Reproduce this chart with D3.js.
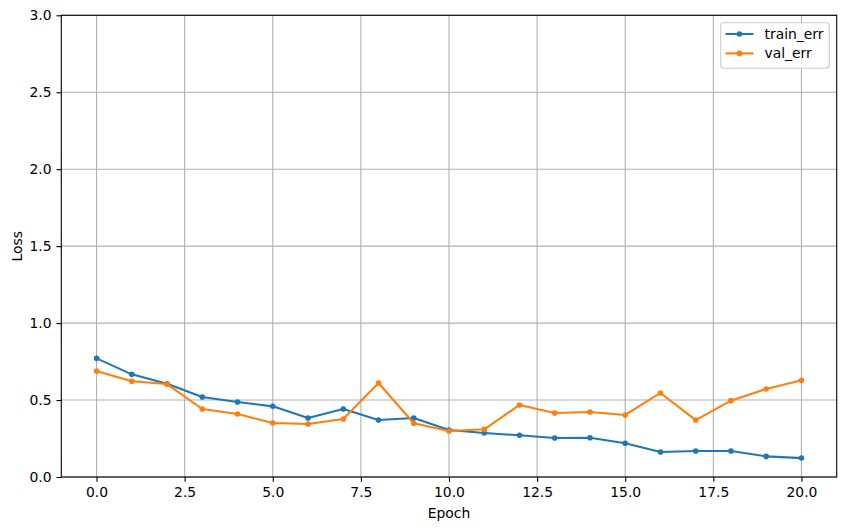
<!DOCTYPE html>
<html><head><meta charset="utf-8">
<script src="https://cdn.jsdelivr.net/npm/d3@7"></script>
<style>body{margin:0;background:#fff}svg{display:block}text{font-family:"DejaVu Sans",sans-serif}</style>
</head><body><div id="chart"></div>
<script>
const epochs = [0,1,2,3,4,5,6,7,8,9,10,11,12,13,14,15,16,17,18,19,20];
const trainErr = [0.771,0.667,0.606,0.520,0.487,0.459,0.383,0.442,0.370,0.383,0.305,0.286,0.271,0.253,0.255,0.219,0.162,0.169,0.169,0.134,0.123];
const valErr = [0.689,0.622,0.604,0.442,0.409,0.351,0.344,0.377,0.611,0.349,0.299,0.310,0.468,0.416,0.422,0.403,0.546,0.370,0.496,0.572,0.628];
const xTicks = [0,2.5,5,7.5,10,12.5,15,17.5,20];
const yTicks = [0,0.5,1,1.5,2,2.5,3];
const seriesNames = ["train_err","val_err"];
const colors = ["#1f77b4","#ff7f0e"];

const W=846,H=530;
const L=61.3,R=836.7,T=15.3,B=477;
const svg=d3.select("#chart").append("svg").attr("width",W).attr("height",H);
const x=d3.scaleLinear().domain([-1,21]).range([L,R]);
const y=d3.scaleLinear().domain([0,3]).range([B,T]);
const fs="13.9px";

// grid
const g=svg.append("g");
g.selectAll(".gx").data(xTicks).enter().append("line")
 .attr("x1",d=>x(d)).attr("x2",d=>x(d)).attr("y1",T).attr("y2",B)
 .attr("stroke","#b0b0b0").attr("stroke-width",1.1);
g.selectAll(".gy").data(yTicks).enter().append("line")
 .attr("y1",d=>y(d)).attr("y2",d=>y(d)).attr("x1",L).attr("x2",R)
 .attr("stroke","#b0b0b0").attr("stroke-width",1.1);

// axes
const xAxis=d3.axisBottom(x).tickValues(xTicks).tickFormat(d3.format(".1f")).tickSize(4.86).tickPadding(4.86);
const yAxis=d3.axisLeft(y).tickValues(yTicks).tickFormat(d3.format(".1f")).tickSize(4.86).tickPadding(4.86);
const ax=svg.append("g").attr("transform",`translate(0,${B})`).call(xAxis);
const ay=svg.append("g").attr("transform",`translate(${L},0)`).call(yAxis);
[ax,ay].forEach(a=>{
  a.select(".domain").remove();
  a.selectAll(".tick line").attr("stroke","#000").attr("stroke-width",1.1);
  a.selectAll(".tick text").attr("fill","#000").style("font-size",fs).style("font-family","DejaVu Sans");
});

// lines
const data=[trainErr,valErr];
const line=d3.line().x((d,i)=>x(epochs[i])).y(d=>y(d));
data.forEach((s,k)=>{
  svg.append("path").datum(s).attr("d",line).attr("fill","none")
    .attr("stroke",colors[k]).attr("stroke-width",2.08).attr("stroke-linejoin","round").attr("stroke-linecap","square");
  svg.append("g").selectAll("circle").data(s).enter().append("circle")
    .attr("cx",(d,i)=>x(epochs[i])).attr("cy",d=>y(d)).attr("r",2.8).attr("fill",colors[k]);
});

// spines
svg.append("rect").attr("x",L).attr("y",T).attr("width",R-L).attr("height",B-T)
 .attr("fill","none").attr("stroke","#000").attr("stroke-width",1.1);

// labels
svg.append("text").attr("x",(L+R)/2).attr("y",518).attr("text-anchor","middle").style("font-size",fs).text("Epoch");
svg.append("text").attr("transform",`translate(22,${(T+B)/2}) rotate(-90)`).attr("text-anchor","middle").style("font-size",fs).text("Loss");

// legend
const lg=svg.append("g");
lg.append("rect").attr("x",720.7).attr("y",22.7).attr("width",108.6).attr("height",45.6).attr("rx",3)
 .attr("fill","#fff").attr("fill-opacity",0.8).attr("stroke","#cccccc").attr("stroke-width",1.1);
seriesNames.forEach((n,k)=>{
  const yy=34+k*19.4;
  lg.append("line").attr("x1",725.5).attr("x2",753.5).attr("y1",yy).attr("y2",yy).attr("stroke",colors[k]).attr("stroke-width",2.08);
  lg.append("circle").attr("cx",739.5).attr("cy",yy).attr("r",2.8).attr("fill",colors[k]);
  lg.append("text").attr("x",764.5).attr("y",yy).attr("dy","0.35em").style("font-size",fs).text(n);
});
</script></body></html>
